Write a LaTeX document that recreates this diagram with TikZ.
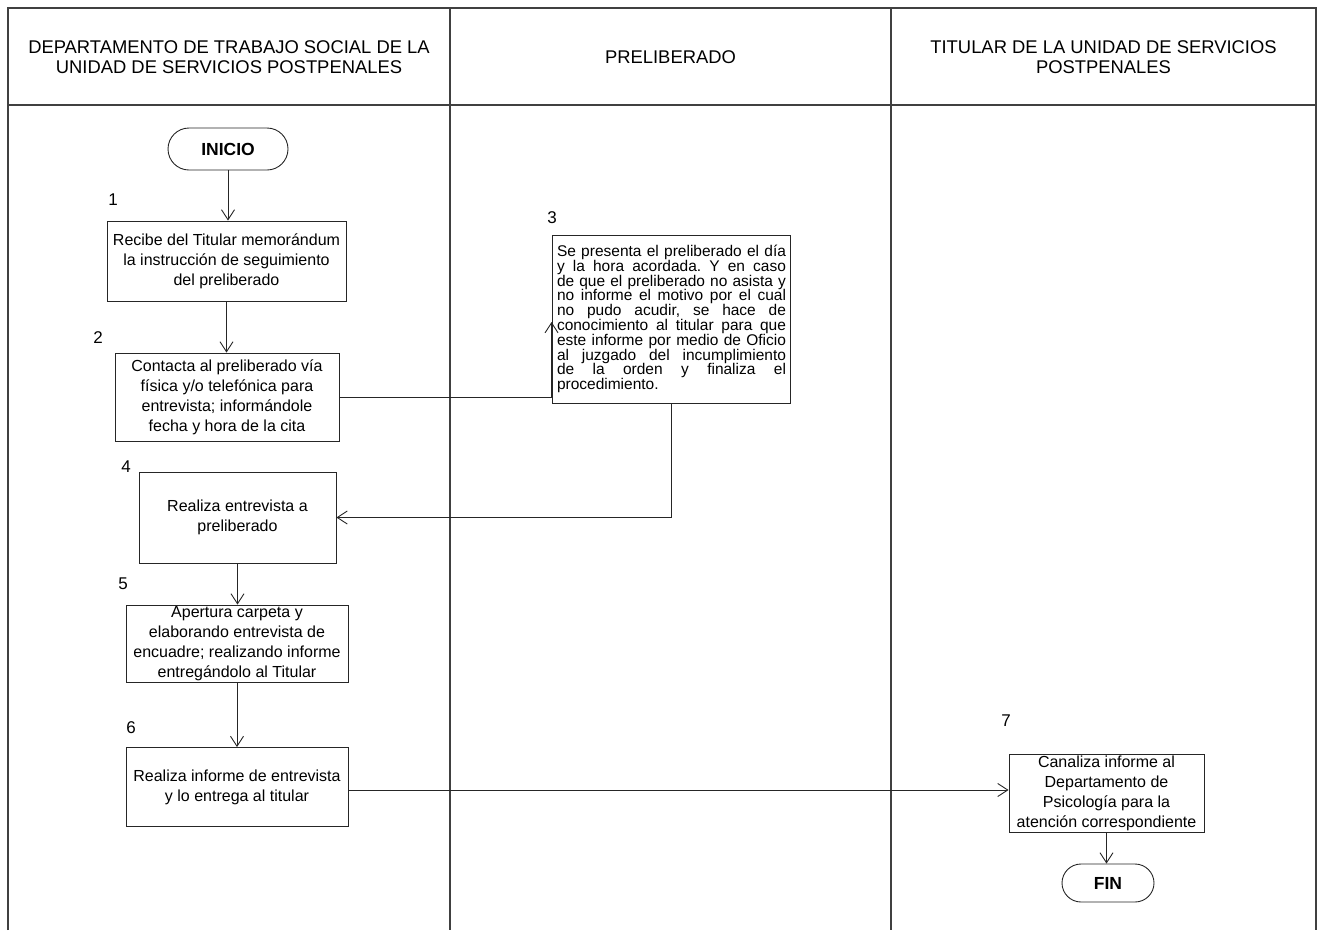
\documentclass[tikz,border=0pt]{standalone}
\usepackage{fontspec}
\setmainfont{Liberation Sans}
\usetikzlibrary{arrows.meta,shapes.misc}
\begin{document}
\begin{tikzpicture}[x=1pt,y=-1pt,
  lane/.style={draw=black!75,line width=1.1pt},
  stepbox/.style={draw=black!85,line width=0.9pt,rectangle,inner sep=1pt,align=center,
    font=\fontsize{16}{20}\selectfont},
  term/.style={draw=black!85,line width=0.9pt,rounded rectangle,inner sep=0pt,
    font=\fontsize{17.5}{20}\selectfont\bfseries},
  num/.style={font=\fontsize{17}{20}\selectfont,inner sep=0pt},
  head/.style={align=center,font=\fontsize{18.4}{20.5}\selectfont,inner sep=0pt},
  arr/.style={draw=black!85,line width=0.9pt,-{Straight Barb[length=10pt,width=13pt]}}]
\useasboundingbox (0,0) rectangle (1320,930);

% swimlane frame
\draw[lane] (8,930) -- (8,8) -- (1316,8) -- (1316,930);
\draw[lane] (8,105) -- (1316,105);
\draw[lane] (450,8) -- (450,930);
\draw[lane] (891,8) -- (891,930);

% lane headings
\node[head] (h1) at (229,57) {DEPARTAMENTO DE TRABAJO SOCIAL DE LA\\UNIDAD DE SERVICIOS POSTPENALES};
\node[head] (h2) at (670.5,57) {PRELIBERADO};
\node[head] (h3) at (1103.5,57) {TITULAR DE LA UNIDAD DE SERVICIOS\\POSTPENALES};

% terminators
\node[term,minimum width=120pt,minimum height=42pt] (inicio) at (228,149) {INICIO};
\node[term,minimum width=92pt,minimum height=38pt] (fin) at (1108,883) {FIN};

% process steps
\node[stepbox,minimum width=239pt,minimum height=80pt] (b1) at (226.5,261)
  {Recibe del Titular memorándum\\la instrucción de seguimiento\\del preliberado};
\node[stepbox,minimum width=224pt,minimum height=88pt] (b2) at (227,397)
  {Contacta al preliberado vía\\física y/o telefónica para\\entrevista; informándole\\fecha y hora de la cita};
\node[draw=black!85,line width=0.9pt,rectangle,inner sep=0pt,
  font=\fontsize{15.5}{14.8}\selectfont] (b3) at (671,319)
  {\parbox[c][168pt][t]{238pt}{\frenchspacing\leftskip=5pt\rightskip=4pt\parfillskip=0pt plus 1fil
   \vspace{10pt}\noindent Se presenta el preliberado el día\linebreak
   y la hora acordada. Y en caso\linebreak
   de que el preliberado no asista y\linebreak
   no informe el motivo por el cual\linebreak
   no pudo acudir, se hace de\linebreak
   conocimiento al titular para que\linebreak
   este informe por medio de Oficio\linebreak
   al juzgado del incumplimiento\linebreak
   de la orden y finaliza el\linebreak
   procedimiento.}};
\node[stepbox,minimum width=197pt,minimum height=91pt] (b4) at (237.5,517.5)
  {Realiza entrevista a\\preliberado};
\node[stepbox,minimum width=222pt,minimum height=77pt] (b5) at (237,643.5)
  {Apertura carpeta y\\elaborando entrevista de\\encuadre; realizando informe\\entregándolo al Titular};
\node[stepbox,minimum width=222pt,minimum height=79pt] (b6) at (237,787)
  {Realiza informe de entrevista\\y lo entrega al titular};
\node[stepbox,minimum width=195pt,minimum height=78pt] (b7) at (1106.5,793.5)
  {Canaliza informe al\\Departamento de\\Psicología para la\\atención correspondiente};

% step numbers
\node[num] (n1) at (113,200) {1};
\node[num] (n2) at (98,338) {2};
\node[num] (n3) at (552,218) {3};
\node[num] (n4) at (126,467) {4};
\node[num] (n5) at (123,584) {5};
\node[num] (n6) at (131,728) {6};
\node[num] (n7) at (1006,721) {7};

% connectors
\draw[arr] (inicio.south) -- (inicio.south |- b1.north);
\draw[arr] (b1.south) -- (b1.south |- b2.north);
\draw[arr] (b2.east) -| ([yshift=-3pt]b3.west);
\draw[arr] (b3.south) |- (b4.east);
\draw[arr] (b4.south) -- (b4.south |- b5.north);
\draw[arr] (b5.south) -- (b5.south |- b6.north);
\draw[arr] ([yshift=-3pt]b6.east) -- ([yshift=-3pt]b6.east -| b7.west);
\draw[arr] (b7.south) -- (b7.south |- fin.north);
\end{tikzpicture}
\end{document}
